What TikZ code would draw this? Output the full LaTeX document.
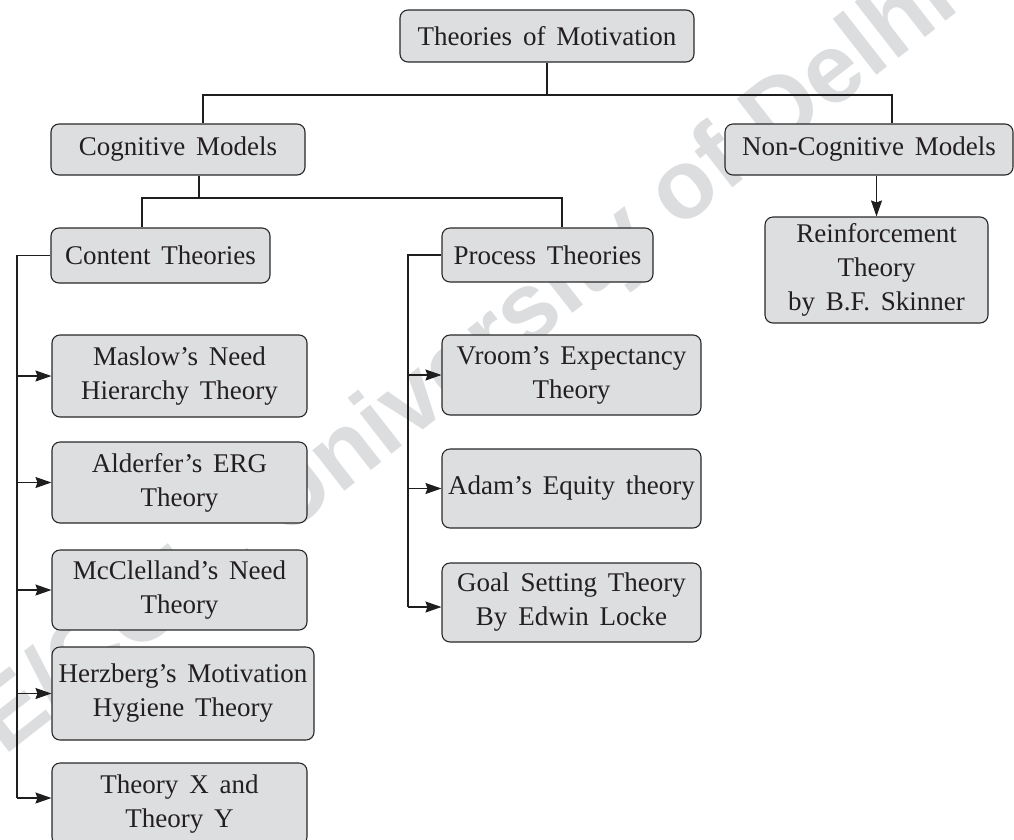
\documentclass[tikz,border=0pt]{standalone}
\usepackage{fontspec}
\setmainfont{Liberation Serif}[WordSpace=1.6]
\newfontfamily\markfont{Liberation Sans}
\usetikzlibrary{arrows.meta}
\definecolor{boxfill}{RGB}{221,222,224}
\definecolor{boxline}{RGB}{40,40,40}
\definecolor{wirecol}{RGB}{30,30,30}
\definecolor{markgray}{RGB}{220,221,223}
\definecolor{inkcol}{RGB}{35,31,32}
\begin{document}
\begin{tikzpicture}[x=1pt,y=-1pt,
  box/.style={draw=boxline, fill=boxfill, line width=1.1pt, rounded corners=8pt,
    inner sep=0pt, align=center, text=inkcol,
    font=\fontsize{27}{34}\selectfont},
  wire/.style={draw=wirecol, line width=1.1pt},
  arr/.style={wire, -{Stealth[length=16pt,width=11pt,inset=2pt]}}]
\useasboundingbox (0,0) rectangle (1014,839);

% faint background watermark
\node[anchor=base east, rotate=38, text=markgray, inner sep=0pt,
  font=\markfont\bfseries\fontsize{98}{98}\selectfont] (wm) at (962,9)
  {CE/COL, University of Delhi};

% top level
\node[box, minimum width=294pt, minimum height=52pt] (top) at (547,36) {Theories of Motivation};
\node[box, minimum width=254pt, minimum height=51pt] (cog) at (178,149.5) {Cognitive Models};
\node[box, minimum width=288pt, minimum height=51pt] (noncog) at (869,149.5) {Non-Cognitive Models};

% second level
\node[box, minimum width=219pt, minimum height=55pt] (content) at (160.5,255.5) {Content Theories};
\node[box, minimum width=211pt, minimum height=54pt] (process) at (547.5,255) {Process Theories};
\node[box, minimum width=223pt, minimum height=106pt] (reinf) at (876.5,270) {Reinforcement\\Theory\\by B.F. Skinner};

% content theories
\node[box, minimum width=255pt, minimum height=82pt] (maslow) at (179.5,376) {Maslow’s Need\\Hierarchy Theory};
\node[box, minimum width=255pt, minimum height=81pt] (alderfer) at (179.5,482.5) {Alderfer’s ERG\\Theory};
\node[box, minimum width=255pt, minimum height=80pt] (mcc) at (179.5,590) {McClelland’s Need\\Theory};
\node[box, minimum width=262pt, minimum height=93pt] (herz) at (183,693.5) {Herzberg’s Motivation\\Hygiene Theory};
\node[box, minimum width=255pt, minimum height=82pt] (thxy) at (179.5,804) {Theory X and\\Theory Y};

% process theories
\node[box, minimum width=259pt, minimum height=80pt] (vroom) at (571.5,375) {Vroom’s Expectancy\\Theory};
\node[box, minimum width=259pt, minimum height=79pt] (adam) at (571.5,488.5) {Adam’s Equity theory};
\node[box, minimum width=259pt, minimum height=79pt] (goal) at (571.5,602.5) {Goal Setting Theory\\By Edwin Locke};

% junction points of the tree
\coordinate (j1) at (203,95);
\coordinate (j2) at (892,95);
\coordinate (k0) at (199,198);
\coordinate (k1) at (142,198);
\coordinate (k2) at (562,198);
\coordinate (ctrunk) at (17,798);
\coordinate (ptrunk) at (408,607);

% upper connectors
\draw[wire] (top.south) -- (top.south |- j1);
\draw[wire] (j1 |- cog.north) -- (j1) -- (j2) -- (j2 |- noncog.north);
\draw[wire] (k0 |- cog.south) -- (k0);
\draw[wire] (k1 |- content.north) -- (k1) -- (k2) -- (k2 |- process.north);
\draw[arr] (reinf.north |- noncog.south) -- (reinf.north);

% content trunk and branches
\draw[wire] (content.west) -- (content.west -| ctrunk) -- (ctrunk);
\draw[arr] (maslow.west -| ctrunk) -- (maslow.west);
\draw[arr] (alderfer.west -| ctrunk) -- (alderfer.west);
\draw[arr] (mcc.west -| ctrunk) -- (mcc.west);
\draw[arr] (herz.west -| ctrunk) -- (herz.west);
\draw[arr] (ctrunk) -- (ctrunk -| thxy.west);

% process trunk and branches
\draw[wire] (process.west) -- (process.west -| ptrunk) -- (ptrunk);
\draw[arr] (vroom.west -| ptrunk) -- (vroom.west);
\draw[arr] (adam.west -| ptrunk) -- (adam.west);
\draw[arr] (ptrunk) -- (ptrunk -| goal.west);
\end{tikzpicture}
\end{document}
